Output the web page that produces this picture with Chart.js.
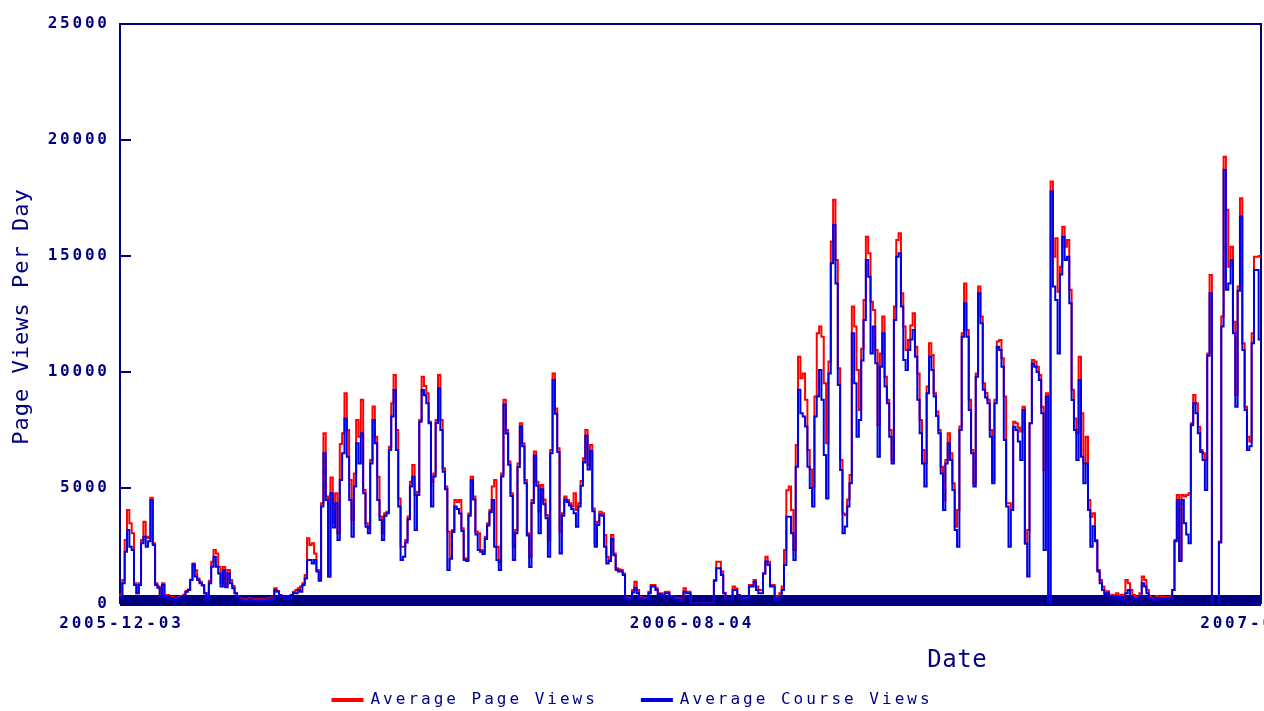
<!DOCTYPE html>
<html>
<head>
<meta charset="utf-8">
<title>Page Views Per Day</title>
<script src="https://cdn.jsdelivr.net/npm/chart.js@4.4.1/dist/chart.umd.min.js"></script>
<style>
  html, body { margin: 0; padding: 0; background: #fff; }
  canvas { display: block; }
</style>
</head>
<body>
<canvas id="views-chart" width="1264" height="711"></canvas>
<script>
// one value per day, starting at startDate
const startDate = '2005-12-03';
const xTickDays = [0, 244, 488];
const xTickLabels = ['2005-12-03', '2006-08-04', '2007-04-05'];
const yTicks = [0, 5000, 10000, 15000, 20000, 25000];
const seriesNames = ['Average Page Views', 'Average Course Views'];
const axisTitles = ['Date', 'Page Views Per Day'];

const pageViews = [
  430, 380, 1030, 2760, 4050, 3480, 3050, 890, 460, 890,
  2760, 3550, 2900, 2830, 4580, 2620, 890, 750, 320, 890,
  320, 390, 250, 300, 200, 250, 300, 350, 400, 550,
  620, 1050, 1750, 1460, 1100, 960, 820, 460, 170, 1000,
  1820, 2330, 2180, 1610, 890, 1590, 750, 1470, 1030, 780,
  460, 320, 250, 200, 150, 200, 250, 200, 150, 200,
  170, 200, 150, 200, 250, 200, 300, 680, 560, 390,
  320, 250, 320, 250, 390, 530, 600, 680, 750, 890,
  1250, 2830, 2540, 2620, 2180, 1470, 1035, 4340, 7360, 4630,
  1180, 5450, 3500, 4770, 3050, 6900, 7360, 9080, 7500, 5350,
  3620, 5630, 7930, 7210, 8800, 4910, 3480, 3260, 6210, 8510,
  7210, 5490, 3770, 3050, 3910, 3980, 6780, 8650, 9870, 7500,
  4550, 2470, 2470, 2760, 3770, 5270, 5990, 4700, 4840, 7930,
  9800, 9400, 9080, 7860, 5270, 5630, 7930, 9870, 7930, 5850,
  5060, 3120, 2040, 3190, 4480, 4400, 4480, 3260, 1970, 1900,
  3900, 5490, 4630, 3120, 3050, 2330, 2260, 2900, 3480, 4050,
  5060, 5350, 2470, 1820, 5630, 8800, 7500, 6140, 4770, 2470,
  3190, 6060, 7790, 6930, 5350, 3050, 2040, 4480, 6570, 5270,
  3980, 5130, 4500, 3840, 2760, 6640, 9940, 8430, 6710, 3120,
  3910, 4630, 4480, 4340, 4200, 4770, 4050, 4340, 5300, 6280,
  7500, 5990, 6850, 4120, 2610, 3550, 3980, 3910, 2970, 2040,
  1900, 2970, 2180, 1540, 1500, 1470, 1320, 290, 250, 250,
  600, 960, 600, 300, 250, 250, 250, 530, 820, 820,
  680, 460, 460, 320, 530, 530, 320, 320, 250, 250,
  200, 170, 680, 530, 530, 30, 30, 30, 30, 30,
  30, 30, 30, 30, 30, 1035, 1820, 1820, 1400, 460,
  250, 250, 250, 750, 680, 390, 250, 250, 250, 250,
  820, 820, 1035, 750, 600, 600, 1320, 2040, 1820, 820,
  820, 170, 320, 460, 750, 2330, 4900, 5060, 4050, 2330,
  6850, 10660, 9730, 9940, 8800, 6640, 5800, 5060, 8940, 11670,
  11960, 11520, 9510, 6930, 10450, 15620, 17420, 14830, 10160, 6210,
  3900, 3830, 4500, 5560, 12820, 11960, 10090, 8360, 11000, 13100,
  15830, 15120, 13030, 12670, 10950, 7720, 10800, 12390, 9800, 8800,
  7500, 6210, 12820, 15690, 15980, 13390, 11960, 10950, 11380, 12000,
  12530, 11090, 9940, 7930, 6640, 6060, 9370, 11240, 10730, 9080,
  8300, 7500, 5920, 4480, 6210, 7360, 6500, 5200, 3330, 4050,
  7650, 11670, 13820, 11810, 8800, 6640, 5200, 9940, 13680, 12390,
  9510, 9100, 8800, 7500, 5350, 8800, 11310, 11380, 10590, 8940,
  4340, 4340, 4050, 7860, 7790, 7600, 7430, 8500, 2610, 3190,
  7790, 10520, 10450, 10230, 9870, 8500, 5780, 9080, 0, 18210,
  14970, 15760, 13460, 14540, 16260, 15400, 15690, 13540, 9230, 8000,
  7360, 10660, 8220, 6060, 7210, 4480, 3760, 3910, 2760, 1470,
  1035, 750, 460, 550, 320, 400, 250, 460, 300, 400,
  250, 1030, 890, 600, 400, 250, 300, 460, 1180, 1030,
  600, 320, 250, 200, 350, 250, 320, 250, 300, 250,
  320, 600, 2760, 4700, 1900, 4700, 4630, 4700, 4770, 7790,
  9010, 8650, 7640, 6640, 6500, 6210, 10800, 14180, 0, 0,
  0, 2690, 12390, 19280, 16990, 14540, 15400, 12170, 9010, 13680,
  17490, 11240, 8500, 7210, 7000, 11670, 14970, 14970, 15000
];

const courseViews = [
  320, 300, 890, 2250, 3190, 2470, 2330, 820, 460, 820,
  2620, 2900, 2470, 2700, 4480, 2540, 820, 700, 300, 820,
  300, 320, 200, 250, 150, 200, 250, 300, 350, 530,
  600, 1030, 1700, 1180, 1030, 890, 800, 460, 170, 890,
  1610, 2040, 1610, 1320, 750, 1470, 720, 1320, 890, 680,
  460, 320, 200, 150, 100, 150, 200, 150, 120, 150,
  120, 150, 100, 150, 200, 150, 250, 600, 530, 390,
  320, 250, 320, 250, 390, 460, 460, 600, 530, 820,
  1100, 1900, 1900, 1750, 1900, 1400, 1000, 4200, 6500, 4480,
  1180, 4770, 3300, 4340, 2760, 5350, 6500, 8000, 6350, 4480,
  2900, 5060, 6930, 6060, 7360, 4770, 3330, 3050, 6060, 7930,
  6930, 4480, 3620, 2760, 3800, 3910, 6640, 8080, 9220, 6640,
  4200, 1900, 2040, 2650, 3650, 5060, 5490, 3190, 4700, 7860,
  9220, 9000, 8650, 7790, 4200, 5500, 7800, 9300, 7500, 5700,
  4950, 1470, 1950, 3100, 4200, 4100, 3900, 3150, 1900, 1850,
  3800, 5350, 4500, 3000, 2330, 2250, 2150, 2800, 3380, 3950,
  4480, 2470, 1900, 1470, 5500, 8600, 7350, 6000, 4650, 1900,
  3050, 5900, 7650, 6800, 5200, 2950, 1600, 4350, 6400, 5100,
  3050, 4950, 4300, 3700, 2040, 6500, 9660, 8200, 6550, 2180,
  3800, 4500, 4400, 4250, 4100, 3910, 3330, 4200, 5100, 6100,
  7250, 5800, 6600, 4000, 2470, 3400, 3850, 3800, 2470, 1750,
  1850, 2800, 2100, 1470, 1400, 1400, 1250, 250, 200, 200,
  500, 700, 460, 250, 200, 200, 200, 460, 750, 750,
  600, 430, 400, 300, 460, 460, 300, 300, 200, 200,
  170, 150, 530, 460, 460, 30, 30, 30, 30, 30,
  30, 30, 30, 30, 30, 1000, 1540, 1540, 1250, 460,
  250, 250, 250, 600, 600, 390, 250, 250, 200, 200,
  750, 750, 960, 600, 460, 460, 1320, 1830, 1680, 750,
  750, 170, 250, 320, 600, 1680, 3760, 3760, 3050, 1900,
  5920, 9230, 8220, 8080, 7650, 5920, 5000, 4200, 8080, 8940,
  10090, 8800, 6420, 4550, 9940, 14690, 16340, 13820, 9440, 5780,
  3050, 3340, 4200, 5200, 11670, 9510, 7210, 7930, 10500, 12240,
  14830, 14110, 10800, 11960, 10380, 6350, 10230, 11670, 9370, 8650,
  7210, 6060, 12240, 14970, 15120, 12820, 10520, 10090, 10950, 11400,
  11810, 10660, 8800, 7360, 6060, 5060, 9080, 10660, 10090, 8940,
  8100, 7360, 5630, 4050, 6060, 6930, 6210, 4910, 3190, 2470,
  7500, 11520, 12960, 11520, 8360, 6500, 5060, 9800, 13390, 12100,
  9230, 8900, 8650, 7210, 5200, 8650, 11090, 10950, 10230, 7070,
  4200, 2470, 4050, 7640, 7500, 7000, 6210, 8360, 2610, 1180,
  7790, 10370, 10230, 10000, 9660, 8220, 2330, 8940, 0, 17780,
  13680, 13100, 10800, 14200, 15830, 14830, 14970, 12960, 8790, 7500,
  6210, 9660, 6350, 5200, 6060, 4050, 2470, 3350, 2700, 1400,
  890, 600, 430, 460, 300, 320, 200, 320, 250, 300,
  170, 460, 600, 320, 250, 200, 250, 320, 890, 750,
  460, 250, 200, 150, 250, 200, 250, 200, 250, 200,
  250, 600, 2700, 4480, 1850, 4480, 3480, 3000, 2620, 7700,
  8650, 8220, 7360, 6550, 6210, 4910, 10700, 13390, 0, 0,
  0, 2650, 11960, 18710, 13540, 13820, 14830, 11670, 8500, 13500,
  16700, 10950, 8360, 6640, 6800, 11240, 14400, 14400, 11400
];

const NAVY = '#000080';
const RED = '#ff0000';
const BLUE = '#0000e6';
const MONO = '"DejaVu Sans Mono", "Liberation Mono", monospace';

const days = pageViews.map((_, i) => {
  const d = new Date(startDate + 'T00:00:00Z');
  d.setUTCDate(d.getUTCDate() + i);
  return d.toISOString().slice(0, 10);
});

// text with spacing, the trailing space is taken back for center/right
function spacedText(ctx, text, x, y, font, spacing, align) {
  ctx.font = font;
  ctx.letterSpacing = spacing + 'px';
  ctx.textAlign = align;
  ctx.textBaseline = 'middle';
  let dx = 0;
  if (align === 'center') dx = spacing / 2;
  if (align === 'right') dx = spacing;
  ctx.fillText(text, x + dx, y);
}

// frame, y tick marks and the heavy bottom axis, under the lines
const framePlugin = {
  id: 'frame',
  beforeDatasetsDraw(chart) {
    const { ctx, chartArea: a, scales: { y } } = chart;
    const y0 = y.getPixelForValue(0);
    ctx.save();
    ctx.fillStyle = NAVY;
    ctx.fillRect(a.left, y0 - 9, a.right - a.left, 11);
    ctx.strokeStyle = NAVY;
    ctx.lineWidth = 2;
    ctx.beginPath();
    ctx.moveTo(a.left, y0);
    ctx.lineTo(a.left, a.top);
    ctx.lineTo(a.right, a.top);
    ctx.lineTo(a.right, y0);
    yTicks.slice(1, -1).forEach(v => {
      const py = y.getPixelForValue(v);
      ctx.moveTo(a.left, py);
      ctx.lineTo(a.left + 11, py);
    });
    ctx.stroke();
    ctx.restore();
  },
};

const textPlugin = {
  id: 'texts',
  afterDraw(chart) {
    const { ctx, chartArea: a, scales: { x, y } } = chart;
    ctx.save();
    ctx.fillStyle = NAVY;

    yTicks.forEach(v => {
      spacedText(ctx, String(v), a.left - 13, y.getPixelForValue(v), 'bold 16px ' + MONO, 2.8, 'right');
    });
    xTickDays.forEach((d, i) => {
      spacedText(ctx, xTickLabels[i], x.getPixelForValue(d), a.bottom + 20, 'bold 16px ' + MONO, 2.8, 'center');
    });

    spacedText(ctx, axisTitles[0], 957, a.bottom + 57, '24px ' + MONO, 0.6, 'center');

    ctx.save();
    ctx.translate(22, (a.top + a.bottom) / 2 + 3);
    ctx.rotate(-Math.PI / 2);
    spacedText(ctx, axisTitles[1], 0, 0, '22px ' + MONO, 1.0, 'center');
    ctx.restore();

    // legend, centred under the chart
    const font = '16px ' + MONO;
    const spacing = 3;
    ctx.font = font;
    ctx.letterSpacing = spacing + 'px';
    const colors = [RED, BLUE];
    const widths = seriesNames.map(n => 32 + 7 + ctx.measureText(n).width);
    const gap = 43;
    let lx = (chart.width - (widths[0] + widths[1] + gap)) / 2;
    const ly = 700;
    seriesNames.forEach((name, i) => {
      ctx.fillStyle = colors[i];
      ctx.fillRect(lx, ly - 2, 32, 4);
      ctx.fillStyle = NAVY;
      spacedText(ctx, name, lx + 39, ly, font, spacing, 'left');
      lx += widths[i] + gap;
    });
    ctx.restore();
  },
};

const ctx = document.getElementById('views-chart').getContext('2d');
new Chart(ctx, {
  type: 'line',
  data: {
    labels: days,
    datasets: [
      {
        label: seriesNames[0],
        data: pageViews,
        borderColor: RED,
        borderWidth: 2,
        stepped: 'after',
        pointRadius: 0,
        order: 2,
      },
      {
        label: seriesNames[1],
        data: courseViews,
        borderColor: BLUE,
        borderWidth: 2,
        stepped: 'after',
        pointRadius: 0,
        order: 1,
      },
    ],
  },
  options: {
    responsive: false,
    animation: false,
    devicePixelRatio: 1,
    layout: { padding: { top: 24, right: 3, left: 0, bottom: 0 } },
    plugins: {
      legend: { display: false },
      tooltip: { enabled: false },
    },
    scales: {
      x: {
        ticks: { display: false },
        grid: { display: false, drawTicks: false },
        border: { display: false },
        afterFit: s => { s.height = 107; },
      },
      y: {
        min: 0,
        max: 25000,
        ticks: { display: false, stepSize: 5000 },
        grid: { display: false, drawTicks: false },
        border: { display: false },
        afterFit: s => { s.width = 120; },
      },
    },
  },
  plugins: [framePlugin, textPlugin],
});
</script>
</body>
</html>
